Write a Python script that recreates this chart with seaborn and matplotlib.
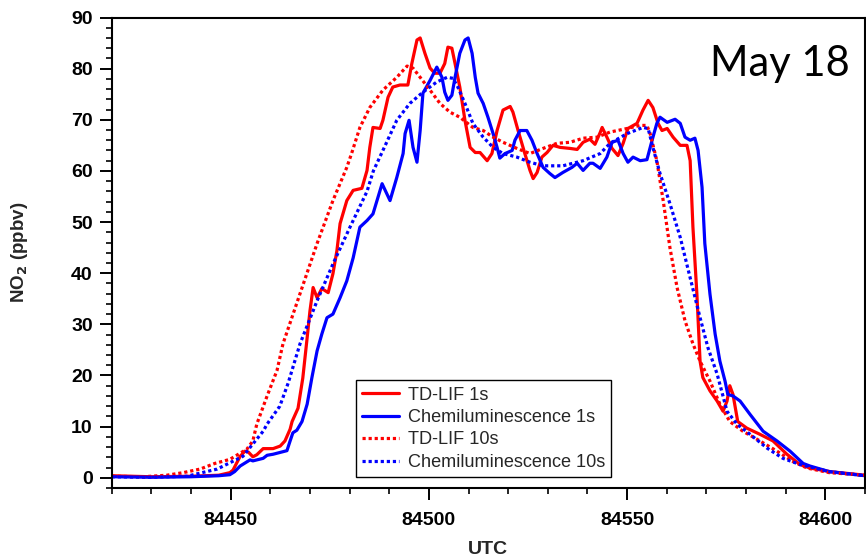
import numpy as np
import pandas as pd
import matplotlib
matplotlib.use("Agg")
import matplotlib.pyplot as plt
import seaborn as sns
from matplotlib.ticker import MultipleLocator

# ---------------- data ----------------
tdlif_1s_t = [84420, 84430, 84440, 84447, 84449.8, 84450.6, 84452.4, 84453.6, 84454.5, 84455.6,
              84456.6, 84458.2, 84460.7, 84462.5, 84463.7, 84465.0, 84465.5, 84467.0, 84468.2, 84469.3,
              84470.0, 84470.8, 84471.8, 84473.0, 84474.6, 84475.8, 84476.8, 84477.6, 84479.3, 84480.9,
              84483.1, 84484.4, 84485.1, 84485.9, 84487.7, 84488.4, 84489.7, 84490.9, 84492.7, 84494.7,
              84495.7, 84497.0, 84497.8, 84499.0, 84500.3, 84501.5, 84502.8, 84504.0, 84504.8, 84505.8,
              84506.6, 84507.8, 84509.1, 84510.4, 84511.7, 84512.9, 84514.7, 84515.9, 84517.2, 84518.7,
              84520.5, 84521.2, 84522.5, 84524.2, 84525.5, 84526.3, 84527.3, 84528.5, 84529.8, 84531.3,
              84533.1, 84535.6, 84537.4, 84538.9, 84540.6, 84541.9, 84543.2, 84543.7, 84544.9, 84546.2,
              84547.7, 84549.0, 84550.2, 84552.5, 84554.0, 84555.3, 84556.5, 84557.8, 84558.8, 84560.1,
              84561.6, 84563.4, 84565.1, 84565.9, 84566.6, 84567.6, 84568.4, 84569.1, 84570.9, 84572.7,
              84574.2, 84575.2, 84575.9, 84576.7, 84577.9, 84580.2, 84583.5, 84586.8, 84590.3, 84593.6,
              84596.1, 84601.2, 84610]
tdlif_1s_v = [0.4, 0.2, 0.3, 0.5, 1.0, 1.5, 4.2, 5.2, 5.0, 4.1,
              4.5, 5.7, 5.7, 6.2, 7.2, 9.5, 11.0, 13.6, 19.5, 27.4,
              32.6, 37.2, 35.2, 37.0, 36.2, 39.9, 44.4, 49.7, 54.2, 56.2,
              56.6, 60.1, 64.6, 68.5, 68.3, 69.9, 74.4, 76.4, 76.8, 76.8,
              81.0, 85.6, 86.0, 83.0, 80.1, 79.1, 79.1, 81.0, 84.2, 84.0,
              81.0, 76.4, 69.9, 64.6, 63.6, 63.6, 62.0, 63.4, 67.9, 71.9,
              72.6, 71.5, 67.9, 63.4, 60.1, 58.5, 59.7, 62.7, 63.6, 65.0,
              64.6, 64.4, 64.2, 65.6, 66.2, 65.2, 67.5, 68.5, 66.6, 64.4,
              63.0, 65.4, 68.3, 69.3, 71.9, 73.8, 72.4, 69.3, 67.9, 68.3,
              66.6, 65.0, 65.0, 62.0, 49.0, 35.9, 22.8, 19.6, 17.0, 15.0,
              13.0, 15.0, 18.0, 16.3, 11.0, 9.7, 8.5, 7.2, 4.6, 2.6,
              1.9, 1.2, 0.5]

chemi_1s_t = [84420, 84430, 84440, 84447, 84449.8, 84451.0, 84452.4, 84454.9, 84455.6, 84458.2,
              84459.2, 84460.7, 84463.2, 84464.2, 84465.0, 84465.7, 84466.7, 84468.0, 84469.3, 84470.5,
              84471.8, 84473.0, 84474.3, 84475.8, 84477.6, 84479.3, 84480.9, 84482.6, 84484.4, 84485.9,
              84488.2, 84490.2, 84491.9, 84493.5, 84494.0, 84495.0, 84496.0, 84497.0, 84497.8, 84498.5,
              84500.3, 84502.0, 84503.3, 84504.0, 84504.8, 84505.8, 84506.6, 84507.8, 84509.1, 84509.9,
              84510.9, 84511.7, 84512.4, 84513.7, 84514.9, 84516.2, 84517.2, 84517.9, 84519.2, 84521.0,
              84521.7, 84523.0, 84524.7, 84526.0, 84527.3, 84528.8, 84530.5, 84531.8, 84533.8, 84536.1,
              84537.4, 84538.9, 84540.6, 84541.4, 84543.2, 84544.9, 84546.2, 84547.7, 84549.0, 84550.2,
              84551.5, 84553.3, 84555.0, 84556.3, 84557.5, 84558.3, 84560.1, 84562.1, 84563.4, 84564.6,
              84565.9, 84567.1, 84567.9, 84568.9, 84569.6, 84570.9, 84572.2, 84573.4, 84574.7, 84575.4,
              84576.7, 84578.5, 84581.0, 84584.3, 84587.8, 84591.1, 84594.4, 84596.1, 84601, 84610]
chemi_1s_v = [0.2, 0.1, 0.2, 0.4, 0.6, 1.2, 2.3, 3.5, 3.3, 3.8,
              4.4, 4.6, 5.1, 5.3, 7.2, 8.8, 9.3, 11.0, 14.4, 19.6,
              24.8, 28.1, 31.3, 32.0, 35.2, 38.5, 43.0, 49.0, 50.3, 51.6,
              57.5, 54.2, 58.7, 63.4, 67.3, 69.9, 64.6, 61.7, 67.9, 75.2,
              77.7, 80.3, 78.3, 75.4, 73.8, 74.8, 78.3, 83.0, 85.6, 86.0,
              83.0, 78.3, 75.2, 73.2, 70.5, 67.3, 64.6, 62.5, 63.4, 64.0,
              66.0, 67.9, 67.9, 66.0, 63.4, 60.7, 59.5, 58.7, 59.7, 60.7,
              61.5, 60.1, 61.5, 61.5, 60.5, 62.7, 65.6, 66.0, 63.4, 61.7,
              62.7, 62.0, 62.2, 66.0, 69.3, 70.5, 69.5, 70.1, 69.3, 66.6,
              66.0, 66.4, 64.0, 56.8, 45.8, 35.9, 28.1, 22.8, 18.9, 16.3,
              16.0, 15.0, 12.4, 9.1, 7.2, 5.2, 2.8, 2.3, 1.2, 0.4]

tdlif_10s_t = [84420, 84428, 84433.9, 84438, 84442.3, 84446, 84449.8, 84454.1, 84455.6, 84456.6,
               84459.2, 84461.7, 84463.2, 84467.5, 84471.8, 84475.8, 84479.3, 84480.5, 84482.6, 84485.1,
               84488.4, 84491.9, 84494.5, 84496.0, 84497.8, 84500.3, 84502.8, 84505.3, 84507.8, 84511.1,
               84513.7, 84516.2, 84518.7, 84522.2, 84525.5, 84528.8, 84532.3, 84535.6, 84538.9, 84542.4,
               84545.7, 84550.0, 84553.3, 84555.0, 84555.8, 84557.5, 84559.1, 84560.8, 84562.6, 84564.6,
               84566.6, 84568.4, 84570.9, 84573.4, 84575.9, 84579.2, 84583.5, 84587.8, 84591.8, 84595.4,
               84601, 84610]
tdlif_10s_v = [0.3, 0.2, 0.5, 1.0, 1.7, 2.8, 3.6, 5.6, 7.2, 10.5,
               16.0, 21.0, 26.2, 36.0, 45.8, 54.2, 60.7, 63.4, 68.5, 72.4,
               75.8, 78.3, 80.5, 80.1, 78.3, 75.8, 73.2, 71.5, 70.5, 68.5,
               67.9, 66.6, 65.6, 64.4, 63.4, 64.4, 65.4, 65.6, 66.4, 66.6,
               67.6, 68.3, 68.9, 68.9, 67.3, 62.0, 54.2, 45.0, 37.2, 30.7,
               26.2, 22.8, 18.9, 14.4, 11.0, 9.1, 7.2, 5.2, 3.2, 1.9,
               1.0, 0.5]

chemi_10s_t = [84420, 84430, 84439, 84446.6, 84453.1, 84458.2, 84459.2, 84462.4, 84464.5, 84467.5,
               84471.8, 84475.8, 84480.1, 84484.4, 84486.0, 84488.4, 84491.9, 84495.2, 84498.5, 84502.0,
               84504.6, 84506.1, 84507.3, 84509.1, 84511.1, 84513.7, 84516.2, 84518.7, 84522.2, 84525.5,
               84528.8, 84533.8, 84538.9, 84543.2, 84545.7, 84550.0, 84554.0, 84555.3, 84556.5, 84558.3,
               84560.8, 84563.4, 84565.9, 84568.4, 84570.4, 84572.7, 84575.2, 84577.7, 84581.0, 84585.3,
               84589.3, 84593.6, 84601, 84610]
chemi_10s_v = [0.2, 0.1, 0.3, 1.7, 4.2, 9.1, 10.5, 14.0, 18.5, 26.2,
               34.6, 41.8, 49.0, 56.0, 60.0, 64.0, 69.9, 73.2, 75.4, 77.4,
               78.3, 78.1, 76.4, 73.2, 69.3, 66.6, 64.6, 63.4, 62.7, 61.7,
               61.0, 61.0, 62.0, 63.4, 65.4, 67.3, 68.5, 68.3, 64.6, 59.5,
               53.6, 47.0, 39.1, 31.3, 25.4, 20.3, 13.0, 10.5, 8.5, 5.8,
               3.8, 2.6, 1.2, 0.4]

labels = ["TD-LIF 1s", "Chemiluminescence 1s", "TD-LIF 10s", "Chemiluminescence 10s"]
x_ticks = [84450, 84500, 84550, 84600]
y_ticks = [0, 10, 20, 30, 40, 50, 60, 70, 80, 90]

# ---------------- plotting ----------------
sns.set_style("ticks")
plt.rcParams["font.family"] = ["Liberation Sans", "DejaVu Sans"]

fig = plt.figure(figsize=(8.66, 5.59), dpi=100)
ax = fig.add_axes([111.7 / 866, 1 - 488 / 559, (865 - 111.7) / 866, (488 - 17.5) / 559])

series = [
    (tdlif_1s_t, tdlif_1s_v, labels[0], "#ff0000", "-"),
    (chemi_1s_t, chemi_1s_v, labels[1], "#0000ff", "-"),
    (tdlif_10s_t, tdlif_10s_v, labels[2], "#ff0000", (0, (1, 0.9))),
    (chemi_10s_t, chemi_10s_v, labels[3], "#0000ff", (0, (1, 0.9))),
]
for t, v, lab, col, ls in series:
    df = pd.DataFrame({"UTC": t, "NO2": v})
    sns.lineplot(data=df, x="UTC", y="NO2", ax=ax, color=col, linewidth=2.3,
                 label=lab, estimator=None, sort=False)
    ax.lines[-1].set_linestyle(ls)
    ax.lines[-1].set_dash_capstyle("butt")

ax.set_xlim(84420, 84610)
ax.set_ylim(-2, 90)
ax.set_xticks(x_ticks)
ax.set_yticks(y_ticks)
ax.xaxis.set_minor_locator(MultipleLocator(10))
ax.yaxis.set_minor_locator(MultipleLocator(2))

for s in ax.spines.values():
    s.set_visible(True)
    s.set_linewidth(1.5)
    s.set_color("black")

ax.tick_params(axis="both", which="major", direction="out", length=8.6, width=1.4,
               labelsize=14, colors="black")
ax.tick_params(axis="both", which="minor", direction="out", length=4.3, width=1.4)
ax.tick_params(axis="x", which="major", pad=9)
ax.tick_params(axis="y", which="major", pad=5)
for lbl in ax.get_xticklabels() + ax.get_yticklabels():
    lbl.set_fontweight("bold")

ax.set_xlabel("UTC", fontsize=14, fontweight="bold")
ax.set_ylabel("NO$_\\mathbf{2}$ (ppbv)", fontsize=13.5, fontweight="bold")
ax.xaxis.set_label_coords(0.5, -0.112)
ax.yaxis.set_label_coords(-0.108, 0.5)

ax.text(0.980, 0.8757, "May 18", transform=ax.transAxes, ha="right", va="baseline",
        fontsize=30, family=["Lato", "DejaVu Sans"], color="black")

leg = ax.legend(loc="lower left", bbox_to_anchor=(0.324, 0.0227), borderaxespad=0,
                fontsize=13.1, frameon=True, fancybox=False, handlelength=2.0,
                handletextpad=0.5, labelspacing=0.3, borderpad=0.35)
leg.get_frame().set_edgecolor("black")
leg.get_frame().set_linewidth(1.0)
leg.get_frame().set_alpha(1)
for h in leg.get_lines():
    h.set_linewidth(2.3)

fig.savefig("out.png", dpi=100)
